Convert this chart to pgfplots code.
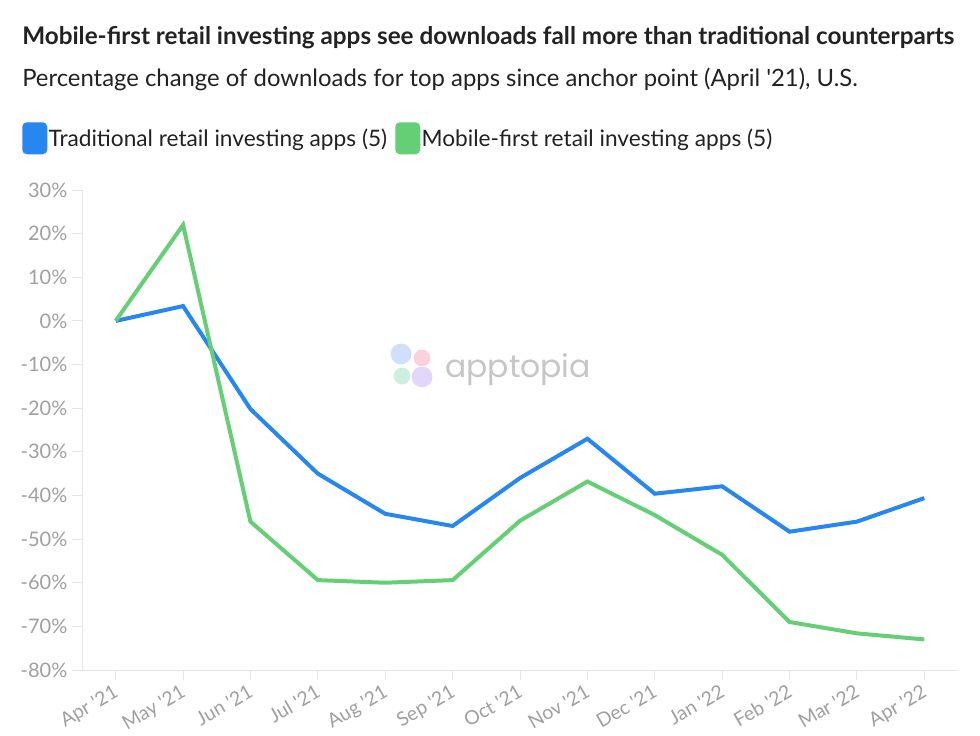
\documentclass[border=0pt]{standalone}
\usepackage{fontspec}
\setmainfont{Lato}
\newfontfamily\popp{Poppins}
\usepackage{pgfplots}
\pgfplotsset{compat=1.18}
\definecolor{tblue}{HTML}{2787F0}
\definecolor{tgreen}{HTML}{65CF75}
\definecolor{axgray}{HTML}{E6E6E6}
\definecolor{lblgray}{HTML}{A0A0A0}
\definecolor{titlegray}{HTML}{222222}
\definecolor{wmgray}{HTML}{C6C6C6}
\definecolor{wmA}{HTML}{CFE0FB}
\definecolor{wmB}{HTML}{FAD1DD}
\definecolor{wmC}{HTML}{CDEFE0}
\definecolor{wmD}{HTML}{E3D6FB}
\newcommand\q{\textquotesingle}
\begin{document}
\begin{tikzpicture}
\path[use as bounding box, fill=white] (0,0) rectangle (735pt,-551.25pt);
\node[anchor=base west, inner sep=0pt, text=titlegray] at (16.5pt,-33.75pt) {\bfseries\fontsize{18.2}{20}\selectfont Mobile-first retail investing apps see downloads fall more than traditional counterparts};
\node[anchor=base west, inner sep=0pt, text=titlegray] at (16.5pt,-64.5pt) {\fontsize{17.9}{20}\selectfont Percentage change of downloads for top apps since anchor point (April \q21), U.S.};
% watermark
\fill[wmA] ({0.75*401pt},{-0.75*354pt}) circle (7.8pt);
\fill[wmB] ({0.75*422pt},{-0.75*358pt}) circle (6.3pt);
\fill[wmC] ({0.75*402pt},{-0.75*376pt}) circle (6.3pt);
\fill[wmD] ({0.75*422pt},{-0.75*377pt}) circle (7.8pt);
\node[anchor=base west, inner sep=0pt, text=wmgray] at ({0.75*445pt},{-0.75*377pt}) {\popp\fontsize{23.6}{24}\selectfont apptopia};
\begin{axis}[
  at={(61.5pt,-502.5pt)}, anchor=south west, scale only axis,
  width=657pt, height=360pt,
  xmin=-0.5, xmax=12.5, ymin=-80, ymax=30,
  axis lines=left, axis line style={-, draw=axgray, line width=0.75pt},
  xtick={0,...,12},
  xticklabels={Apr \q21, May \q21, Jun \q21, Jul \q21, Aug \q21, Sep \q21, Oct \q21, Nov \q21, Dec \q21, Jan \q22, Feb \q22, Mar \q22, Apr \q22},
  ytick={-80,-70,...,30},
  yticklabel={\pgfmathprintnumber{\tick}\%},
  tick align=outside, major tick length=7.5pt,
  tick style={draw=axgray, line width=0.75pt},
  ticklabel style={font=\fontsize{15}{17}\selectfont, text=lblgray},
  x tick label style={rotate=30, anchor=north east, yshift=2.5pt, font=\fontsize{14.6}{17}\selectfont},
  /pgf/number format/assume math mode=true,
  clip=false,
  legend columns=2,
  legend cell align=left,
  legend image code/.code={\fill[rounded corners=2.25pt] (0pt,-10.5pt) rectangle (15.75pt,10.5pt);},
  legend style={at={(axis description cs:-0.0685,1.1417)}, anchor=north west, draw=none, fill=none, inner sep=0pt,
    font=\fontsize{17}{20}\selectfont, text=titlegray,
    nodes={inner sep=1pt},
    /tikz/every even column/.append style={column sep=5pt}},
]
\addplot[color=tblue, line width=3pt] coordinates {
(0,0) (1,3.4) (2,-20.2) (3,-35) (4,-44.2) (5,-47) (6,-36) (7,-27) (8,-39.6) (9,-37.9) (10,-48.3) (11,-46) (12,-40.6)};
\addlegendentry{Traditional retail investing apps (5)}
\addplot[color=tgreen, line width=3pt] coordinates {
(0,0) (1,22) (2,-46) (3,-59.4) (4,-60) (5,-59.4) (6,-45.8) (7,-36.8) (8,-44.5) (9,-53.6) (10,-69) (11,-71.6) (12,-73)};
\addlegendentry{Mobile-first retail investing apps (5)}
\end{axis}
\end{tikzpicture}
\end{document}
